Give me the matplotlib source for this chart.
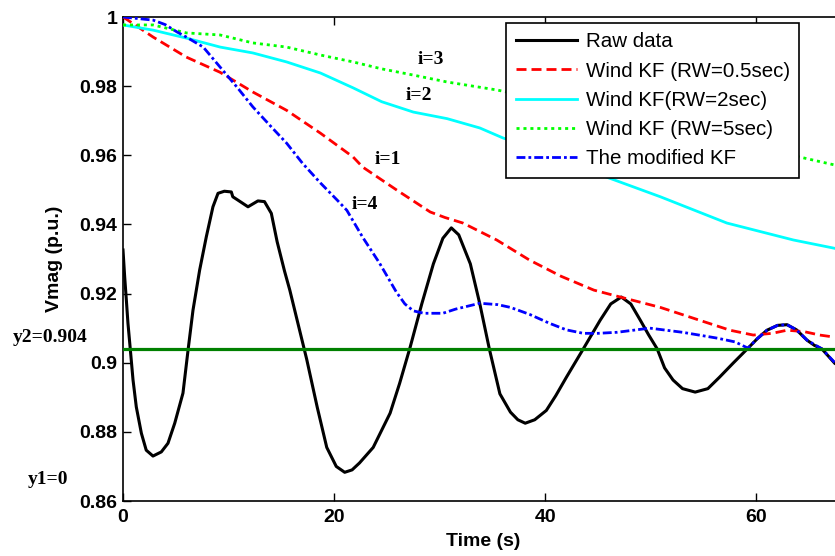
import matplotlib
matplotlib.use("Agg")
import matplotlib.pyplot as plt

# ---------------- data ----------------
raw_t = [0.0, 0.16, 0.32, 0.47, 0.7, 0.95, 1.26, 1.74, 2.2, 2.84, 3.63, 4.26, 4.9,
         5.68, 6.16, 6.63, 7.26, 7.89, 8.52, 9.0, 9.6, 10.26, 10.4, 10.9, 11.84,
         12.78, 13.4, 14.05, 14.6, 15.3, 15.8, 16.8, 17.4, 18.4, 19.3, 20.2, 21.0,
         21.7, 22.4, 23.7, 25.3, 26.2, 27.2, 28.3, 29.4, 30.3, 31.1, 31.8, 32.9, 33.8,
         34.7, 35.7, 36.7, 37.4, 38.1, 39.0, 40.1, 41.0, 42.0, 43.6, 45.2, 46.2, 47.2,
         48.1, 49.0, 49.8, 50.6, 51.3, 52.1, 53.0, 54.2, 55.4, 56.5, 57.8, 59.2, 60.1,
         61.0, 62.0, 62.9, 63.8, 64.8, 65.5, 66.2, 67.4]
raw_v = [0.9326, 0.9248, 0.9180, 0.9114, 0.9036, 0.8950, 0.8872, 0.8796, 0.8747,
         0.8730, 0.8742, 0.8767, 0.8825, 0.8912, 0.9036, 0.9152, 0.9268, 0.9364,
         0.9451, 0.9490, 0.9496, 0.9494, 0.9480, 0.9470, 0.9451, 0.9468, 0.9466,
         0.9432, 0.9350, 0.9265, 0.9210, 0.9085, 0.9010, 0.8871, 0.8755, 0.8700,
         0.8683, 0.8690, 0.8710, 0.8755, 0.8854, 0.8940, 0.9045, 0.9170, 0.9286,
         0.9360, 0.9390, 0.9370, 0.9286, 0.9170, 0.9040, 0.8910, 0.8857, 0.8835,
         0.8825, 0.8835, 0.8862, 0.8905, 0.8958, 0.9040, 0.9123, 0.9170, 0.9190,
         0.9170, 0.9123, 0.9080, 0.9040, 0.8985, 0.8950, 0.8925, 0.8915, 0.8925,
         0.8958, 0.8999, 0.9042, 0.9070, 0.9094, 0.9108, 0.9110, 0.9095, 0.9065,
         0.9050, 0.9040, 0.8999]

kf05_t = [0.0, 1.0, 2.85, 6.0, 9.2, 12.3, 15.5, 18.7, 21.8, 22.7, 25.9, 29.1, 30.5,
          32.2, 35.4, 38.5, 41.5, 44.6, 47.1, 50.9, 54.6, 57.5, 59.7, 61.5, 62.9,
          64.5, 66.0, 67.4]
kf05_v = [1.0, 0.998, 0.9942, 0.9884, 0.9840, 0.9783, 0.9730, 0.9664, 0.9595, 0.9566,
          0.9500, 0.9436, 0.9420, 0.9404, 0.9355, 0.9297, 0.9250, 0.9210, 0.9190,
          0.9160, 0.9123, 0.9094, 0.9080, 0.9085, 0.9094, 0.9090, 0.9080, 0.9074]

kf2_t = [0.0, 2.85, 6.0, 9.2, 12.3, 15.5, 18.7, 21.8, 24.5, 27.5, 30.7, 33.8, 36.0,
         39.5, 42.5, 45.8, 50.9, 57.2, 63.5, 67.4]
kf2_v = [0.9977, 0.9962, 0.9939, 0.9913, 0.9896, 0.9870, 0.9838, 0.9795, 0.9755,
         0.9725, 0.9706, 0.9679, 0.9650, 0.9615, 0.9575, 0.9537, 0.9480, 0.9404,
         0.9355, 0.9331]

kf5_t = [0.0, 2.85, 4.5, 6.0, 9.2, 12.3, 15.5, 18.7, 21.8, 24.5, 27.5, 30.7, 35.4,
         40.0, 45.0, 50.0, 55.0, 60.0, 64.1, 67.4]
kf5_v = [0.9977, 0.9977, 0.9965, 0.9954, 0.9948, 0.9925, 0.9913, 0.9890, 0.9870,
         0.9850, 0.9832, 0.9812, 0.9789, 0.9760, 0.9725, 0.9690, 0.9655, 0.9620,
         0.9595, 0.9572]

mkf_t = [0.0, 2.85, 4.0, 5.1, 6.0, 7.6, 9.2, 10.8, 12.3, 13.9, 15.5, 17.0, 18.7, 20.3,
         21.2, 22.7, 24.3, 25.9, 26.7, 27.5, 28.5, 30.3, 31.5, 33.8, 35.5, 36.7, 38.5,
         40.4, 42.0, 43.6, 45.0, 46.8, 49.9, 53.0, 56.3, 58.0, 59.2, 60.1, 61.0, 62.0,
         62.9, 63.8, 64.8, 66.2, 67.4]
mkf_v = [1.0, 0.9991, 0.9978, 0.9957, 0.9942, 0.9913, 0.9855, 0.9797, 0.9740, 0.9687,
         0.9635, 0.9577, 0.9520, 0.9470, 0.9441, 0.9363, 0.9288, 0.9204, 0.9170, 0.9150,
         0.9143, 0.9143, 0.9155, 0.9172, 0.9168, 0.9160, 0.9140, 0.9114, 0.9095, 0.9085,
         0.9085, 0.9088, 0.9100, 0.9088, 0.9071, 0.9060, 0.9042, 0.9070, 0.9094, 0.9108,
         0.9110, 0.9095, 0.9065, 0.9040, 0.9001]

y2_level = 0.904
series_labels = ["Raw data", "Wind KF (RW=0.5sec)", "Wind KF(RW=2sec)",
                 "Wind KF (RW=5sec)", "The modified KF"]
x_ticks = [0, 20, 40, 60]
y_ticks = [0.86, 0.88, 0.90, 0.92, 0.94, 0.96, 0.98, 1.00]
y_tick_labels = ["0.86", "0.88", "0.9", "0.92", "0.94", "0.96", "0.98", "1"]
curve_tags = ["i=1", "i=2", "i=3", "i=4"]
level_tags = ["y2=0.904", "y1=0"]

# ---------------- figure ----------------
W, H = 835, 556
fig = plt.figure(figsize=(W / 100, H / 100), dpi=100)
fig.patch.set_facecolor("white")

def fx(px):
    return px / W

def fy(py):
    return 1 - py / H

ax_left, ax_right, ax_top, ax_bottom = 123, 843, 17, 501
ax = fig.add_axes([fx(ax_left), fy(ax_bottom), (ax_right - ax_left) / W,
                   (ax_bottom - ax_top) / H])

lw = 2.0
ax.plot(raw_t, raw_v, color="black", lw=2.2, label=series_labels[0], zorder=2)
ax.plot(kf05_t, kf05_v, color="red", lw=lw, dashes=(3.6, 1.8),
        label=series_labels[1], zorder=3)
ax.plot(kf2_t, kf2_v, color="cyan", lw=lw, label=series_labels[2], zorder=3)
ax.plot(kf5_t, kf5_v, color="#00ff00", lw=lw, dashes=(1.1, 1.4),
        label=series_labels[3], zorder=3)
ax.plot(mkf_t, mkf_v, color="blue", lw=lw, dashes=(3.2, 1.1, 1.0, 1.1),
        label=series_labels[4], zorder=4)
ax.axhline(y2_level, color="#008000", lw=2.3, zorder=5)

ax.set_xlim(0, 68.2)
ax.set_ylim(0.86, 1.0)
ax.set_xticks(x_ticks)
ax.set_xticklabels([str(v) for v in x_ticks])
ax.set_yticks(y_ticks)
ax.set_yticklabels(y_tick_labels)

tick_font = dict(family="Liberation Sans", weight="bold", size=14)
for lab in ax.get_xticklabels() + ax.get_yticklabels():
    lab.set_fontfamily("Liberation Sans")
    lab.set_fontweight("bold")
    lab.set_fontsize(14)

ax.tick_params(direction="in", top=True, right=True, length=6, width=1,
               colors="black")
ax.tick_params(axis="x", pad=6)
ax.tick_params(axis="y", pad=4)
for s in ax.spines.values():
    s.set_linewidth(1.2)
    s.set_color("black")

ax.set_xlabel("Time (s)", fontdict=tick_font)
ax.xaxis.set_label_coords(0.5, (ax_bottom - 533) / (ax_bottom - ax_top))
ax.set_ylabel("Vmag (p.u.)", fontdict=tick_font)
ax.yaxis.set_label_coords((63 - ax_left) / (ax_right - ax_left), 0.5)

leg = ax.legend(loc="upper right", bbox_to_anchor=(fx(799), fy(23)),
                bbox_transform=fig.transFigure, borderaxespad=0,
                prop=dict(family="Liberation Sans", size=14.8),
                handlelength=3.0, handletextpad=0.4, labelspacing=0.5,
                borderpad=0.45, fancybox=False, framealpha=1, edgecolor="black")
leg.get_frame().set_linewidth(1.2)
leg.set_zorder(10)

serif = dict(family="Liberation Serif", weight="bold", size=14)
fig.text(fx(375), fy(160), curve_tags[0], ha="left", va="center", fontdict=serif)
fig.text(fx(406), fy(95), curve_tags[1], ha="left", va="center", fontdict=serif)
fig.text(fx(418), fy(59), curve_tags[2], ha="left", va="center", fontdict=serif)
fig.text(fx(352), fy(205), curve_tags[3], ha="left", va="center", fontdict=serif)
fig.text(fx(13), fy(338), level_tags[0], ha="left", va="center", fontdict=serif)
fig.text(fx(28), fy(480), level_tags[1], ha="left", va="center", fontdict=serif)

fig.savefig("out.png", dpi=100)
